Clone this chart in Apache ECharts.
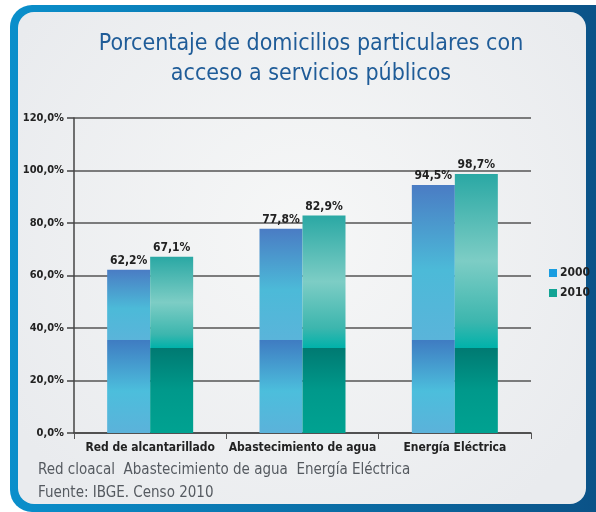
<!DOCTYPE html>
<html>
<head>
<meta charset="utf-8">
<script src="https://cdn.jsdelivr.net/npm/echarts@6/dist/echarts.min.js"></script>
<style>
  html, body { margin: 0; padding: 0; background: #fff; }
  #chart { width: 596px; height: 512px; }
</style>
</head>
<body>
<div id="chart"></div>
<script>
var categories = ['Red de alcantarillado', 'Abastecimiento de agua', 'Energía Eléctrica'];
var years = ['2000', '2010'];
var values2000 = [62.2, 77.8, 94.5];
var values2010 = [67.1, 82.9, 98.7];
var yTicks = [0, 20, 40, 60, 80, 100, 120];

var FONT = '"Liberation Sans Narrow", "DejaVu Sans Condensed", sans-serif';

function pct(v) {
    return v.toFixed(1).replace('.', ',') + '%';
}

// glossy two-part fill, the dark band starts at a fixed height on every bar
function fill2000(v) {
    var b = 1 - 35.4 / v;
    return new echarts.graphic.LinearGradient(0, 0, 0, 1, [
        { offset: 0, color: '#4a7cc4' },
        { offset: b * 0.55, color: '#4cbad8' },
        { offset: b, color: '#5ab4da' },
        { offset: b + 0.001, color: '#3f7cc2' },
        { offset: b + (1 - b) * 0.55, color: '#4cbedc' },
        { offset: 1, color: '#5bb2da' }
    ]);
}
function fill2010(v) {
    var b = 1 - 32.4 / v;
    return new echarts.graphic.LinearGradient(0, 0, 0, 1, [
        { offset: 0, color: '#2aa8a4' },
        { offset: b * 0.5, color: '#7dcdc5' },
        { offset: b * 0.85, color: '#3cb6ae' },
        { offset: b, color: '#00b2aa' },
        { offset: b + 0.001, color: '#007a72' },
        { offset: b + (1 - b) * 0.5, color: '#00998b' },
        { offset: 1, color: '#00a291' }
    ]);
}

var chart = echarts.init(document.getElementById('chart'));

var option = {
    backgroundColor: '#ffffff',
    animation: false,
    graphic: [
        {
            type: 'rect', z: -10, silent: true,
            shape: { x: 10, y: 5, width: 620, height: 507, r: 22 },
            style: {
                fill: new echarts.graphic.LinearGradient(0, 0, 1, 0, [
                    { offset: 0, color: '#0a8fcb' },
                    { offset: 1, color: '#0b4f84' }
                ])
            }
        },
        {
            type: 'rect', z: -9, silent: true,
            shape: { x: 18, y: 12, width: 568, height: 492, r: 16 },
            style: {
                fill: new echarts.graphic.RadialGradient(0.5, 0.45, 0.7, [
                    { offset: 0, color: '#f6f7f7' },
                    { offset: 1, color: '#e9ebee' }
                ])
            }
        },
        {
            type: 'text', left: 38, top: 463,
            style: { text: 'Red cloacal  Abastecimiento de agua  Energía Eléctrica', fill: '#555a60', font: '15px ' + FONT }
        },
        {
            type: 'text', left: 38, top: 486,
            style: { text: 'Fuente: IBGE. Censo 2010', fill: '#555a60', font: '15px ' + FONT }
        }
    ],
    title: {
        text: 'Porcentaje de domicilios particulares con\nacceso a servicios públicos',
        left: 306, top: 24, textAlign: 'center',
        textStyle: { color: '#1f5c98', fontFamily: FONT, fontSize: 23, fontWeight: 'normal', lineHeight: 30 }
    },
    legend: {
        orient: 'vertical', left: 544, top: 262,
        icon: 'rect', itemWidth: 8, itemHeight: 8, itemGap: 8,
        textStyle: { color: '#222', fontFamily: FONT, fontSize: 12, fontWeight: 'bold', padding: [0, 0, 0, -2] },
        data: years
    },
    grid: { left: 74, right: 65, top: 118, bottom: 79 },
    xAxis: {
        type: 'category',
        data: categories,
        axisLine: { lineStyle: { color: '#444', width: 1.5 } },
        axisTick: { show: true, interval: 0, length: 6, lineStyle: { color: '#555' } },
        axisLabel: { interval: 0, color: '#222', fontFamily: FONT, fontSize: 12, fontWeight: 'bold', margin: 9 }
    },
    yAxis: {
        type: 'value',
        min: yTicks[0], max: yTicks[yTicks.length - 1], interval: 20,
        axisLine: { show: true, lineStyle: { color: '#444', width: 1.5 } },
        axisTick: { show: true, length: 7, lineStyle: { color: '#444', width: 1.5 } },
        splitLine: { lineStyle: { color: '#555', width: 1.5 } },
        axisLabel: {
            color: '#222', fontFamily: FONT, fontSize: 11, fontWeight: 'bold', margin: 10,
            formatter: pct
        }
    },
    series: [
        {
            name: years[0], type: 'bar', barWidth: 43, barGap: '0%',
            itemStyle: { color: '#1a9de0' },
            label: { show: true, position: 'top', distance: 3, color: '#222', fontFamily: FONT, fontSize: 12, fontWeight: 'bold', formatter: function (p) { return pct(p.value); } },
            data: values2000.map(function (v) { return { value: v, itemStyle: { color: fill2000(v) } }; })
        },
        {
            name: years[1], type: 'bar', barWidth: 43,
            itemStyle: { color: '#12a394' },
            label: { show: true, position: 'top', distance: 3, color: '#222', fontFamily: FONT, fontSize: 12, fontWeight: 'bold', formatter: function (p) { return pct(p.value); } },
            data: values2010.map(function (v) { return { value: v, itemStyle: { color: fill2010(v) } }; })
        }
    ]
};

chart.setOption(option);
</script>
</body>
</html>
